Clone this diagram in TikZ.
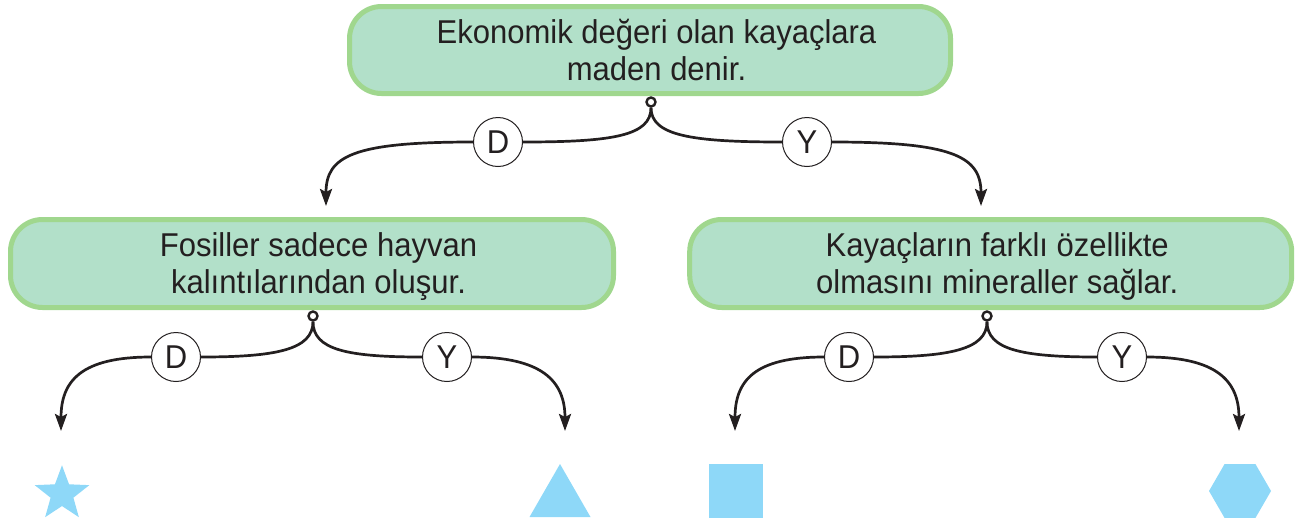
\documentclass[tikz,border=0pt]{standalone}
\usepackage{fontspec}
\setmainfont{Liberation Sans}[FakeStretch=0.94]
\usetikzlibrary{arrows.meta,calc}
\definecolor{boxfill}{HTML}{B2E0C9}
\definecolor{boxline}{HTML}{A0D78E}
\definecolor{shapeblue}{HTML}{8ED8F8}
\definecolor{ink}{HTML}{231F20}
\newcommand{\bxt}[2]{\hspace*{13pt}\rule{0pt}{30pt}#1\\\hspace*{13pt}#2\rule[-7pt]{0pt}{7pt}}
\begin{document}
\begin{tikzpicture}[x=1pt,y=-1pt,
 qbox/.style={draw=boxline, fill=boxfill, line width=5pt, rounded corners=32pt, inner sep=0pt, align=center, text=ink, font=\fontsize{33}{37}\selectfont},
 ans/.style={circle, draw=ink, fill=white, line width=1pt, minimum size=49pt, inner sep=0pt, text=ink, font=\fontsize{33}{36}\selectfont},
 dot/.style={circle, draw=ink, fill=white, line width=2.4pt, minimum size=9pt, inner sep=0pt},
 link/.style={draw=ink, line width=2.7pt},
 arr/.style={link, -{Stealth[length=17pt,width=12pt,inset=3pt]}},
 shp/.style={fill=shapeblue}]
\useasboundingbox (0,0) rectangle (1306,528);
% question boxes
\node[qbox, minimum width=601pt, minimum height=87pt] (top) at (650,50) {\bxt{Ekonomik değeri olan kayaçlara}{maden denir.}};
\node[qbox, minimum width=603pt, minimum height=88pt] (left) at (312,263.5) {\bxt{Fosiller sadece hayvan}{kalıntılarından oluşur.}};
\node[qbox, minimum width=602pt, minimum height=88pt] (right) at (990.7,263.5) {\bxt{Kayaçların farklı özellikte}{olmasını mineraller sağlar.}};
% branch dots
\node[dot] (topdot) at (651,102) {};
\node[dot] (leftdot) at (313,316) {};
\node[dot] (rightdot) at (987,316) {};
% answers
\node[ans] (d0) at (498,142) {D};
\node[ans] (y0) at (807,142) {Y};
\node[ans] (d1) at (176,357) {D};
\node[ans] (y1) at (447,357) {Y};
\node[ans] (d2) at (849,357) {D};
\node[ans] (y2) at (1122,357) {Y};
% arrow ends
\coordinate (t0d) at (326,206);
\coordinate (t0y) at (981,206);
\coordinate (t1d) at (61,431);
\coordinate (t1y) at (565,431);
\coordinate (t2d) at (735,431);
\coordinate (t2y) at (1239,431);
% connectors
\draw[link] (topdot.south) .. controls +(0,28) and +(90,0) .. (d0.east);
\draw[arr] (d0.west) .. controls +(-120,0) and +(0,-50) .. (t0d);
\draw[link] (topdot.south) .. controls +(0,28) and +(-90,0) .. (y0.west);
\draw[arr] (y0.east) .. controls +(120,0) and +(0,-50) .. (t0y);
\draw[link] (leftdot.south) .. controls +(0,28) and +(75,0) .. (d1.east);
\draw[arr] (d1.west) .. controls +(-70,0) and +(0,-50) .. (t1d);
\draw[link] (leftdot.south) .. controls +(0,28) and +(-75,0) .. (y1.west);
\draw[arr] (y1.east) .. controls +(70,0) and +(0,-50) .. (t1y);
\draw[link] (rightdot.south) .. controls +(0,28) and +(75,0) .. (d2.east);
\draw[arr] (d2.west) .. controls +(-70,0) and +(0,-50) .. (t2d);
\draw[link] (rightdot.south) .. controls +(0,28) and +(-75,0) .. (y2.west);
\draw[arr] (y2.east) .. controls +(70,0) and +(0,-50) .. (t2y);
% result shapes
\fill[shp, shift={(62,494)}] (-90:28.7) -- (-54:12) -- (-18:28.7) -- (18:12) -- (54:28.7) -- (90:12) -- (126:28.7) -- (162:12) -- (198:28.7) -- (234:12) -- cycle;
\fill[shp] (560,464) -- (590.5,517) -- (529.5,517) -- cycle;
\fill[shp] (709,464) rectangle (763,518);
\fill[shp, shift={(1240,491)}] (0:31) -- (60:31) -- (120:31) -- (180:31) -- (240:31) -- (300:31) -- cycle;
\end{tikzpicture}
\end{document}
